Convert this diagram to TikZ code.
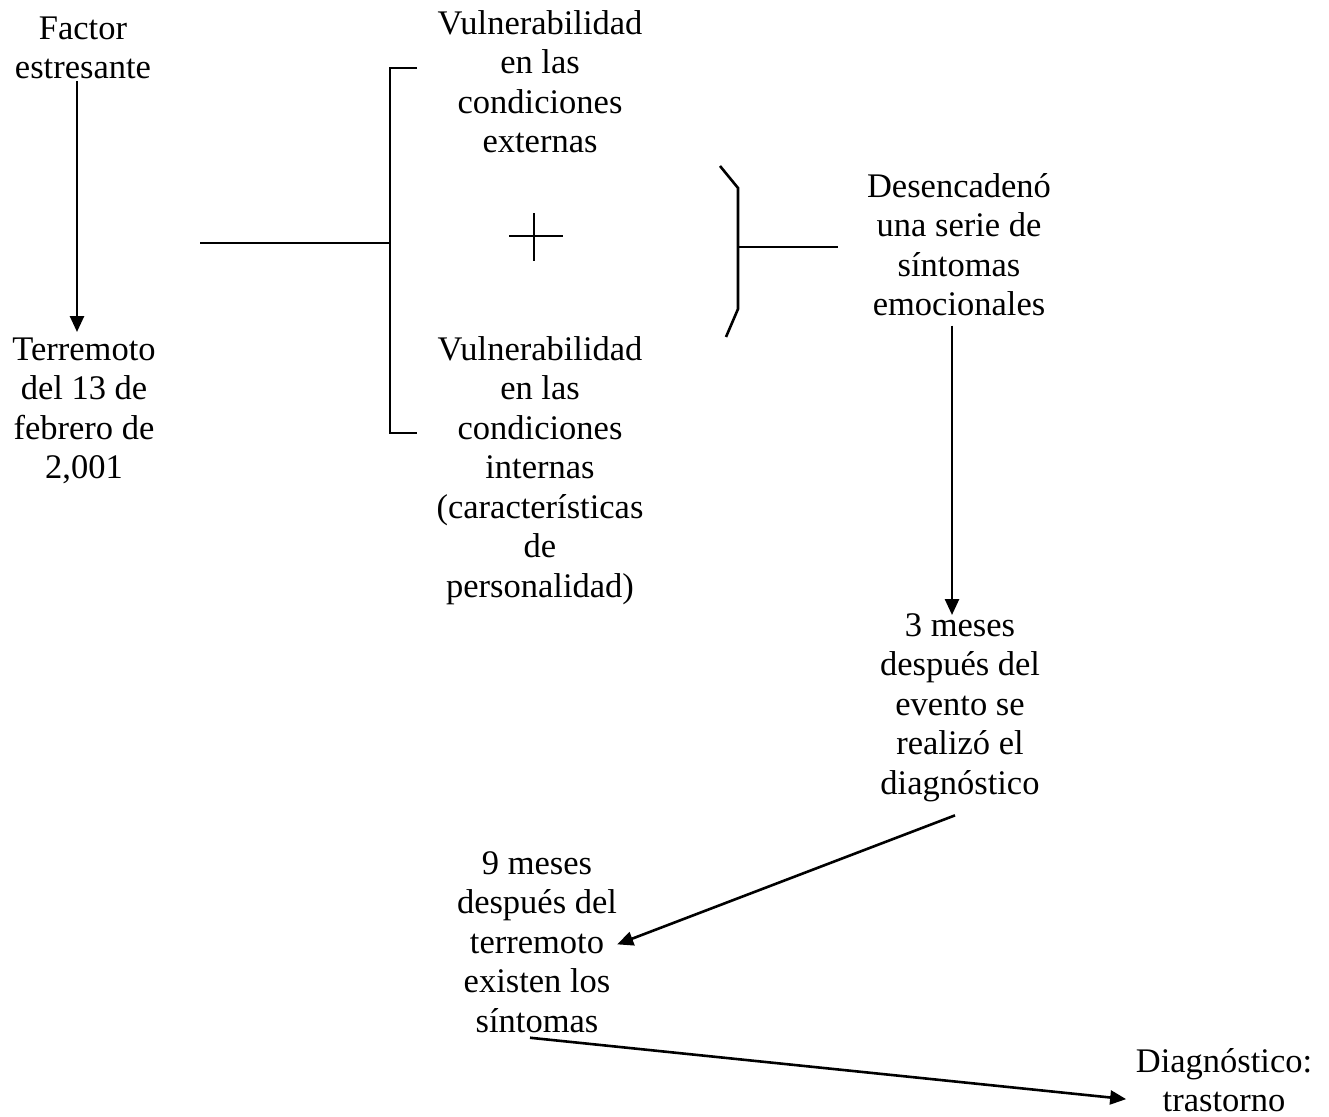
\documentclass[tikz,border=0pt]{standalone}
\usepackage{fontspec}
\setmainfont{Liberation Serif}
\usetikzlibrary{arrows.meta}
\begin{document}
\newcommand\fl{\rule{0pt}{26pt}}
\begin{tikzpicture}[x=1pt,y=-1pt,
  txt/.style={align=center, inner sep=0pt, anchor=north, font=\fontsize{34.5}{39.5}\selectfont},
  arr/.style={line width=2.6pt, -{Triangle[length=16pt,width=14pt]}},
  brk/.style={line width=2.6pt},
  thinline/.style={line width=1.6pt}]
\useasboundingbox (0,0) rectangle (1329,1116);
% text blocks
\node[txt] (factor) at (83,13) {\fl Factor\\estresante};
\node[txt] (terremoto) at (84,334) {\fl Terremoto\\del 13 de\\febrero de\\2,001};
\node[txt] (vext) at (540,8) {\fl Vulnerabilidad\\en las\\condiciones\\externas};
\node[txt] (vint) at (540,334) {\fl Vulnerabilidad\\en las\\condiciones\\internas\\(características\\de\\personalidad)};
\node[txt] (desenc) at (959,171) {\fl Desencadenó\\una serie de\\síntomas\\emocionales};
\node[txt] (tres) at (960,610) {\fl 3 meses\\después del\\evento se\\realizó el\\diagnóstico};
\node[txt] (nueve) at (537,848) {\fl 9 meses\\después del\\terremoto\\existen los\\síntomas};
\node[txt] (diag) at (1224,1046) {\fl Diagnóstico:\\trastorno};
% brace structure
\coordinate (lstart) at (200,243);
\coordinate (lmid) at (390,243);
\coordinate (ltop) at (417,68);
\coordinate (lbot) at (417,433);
\draw[thinline] (lstart) -- (lmid);
\draw[brk] (ltop) -- (390,68) -- (390,433) -- (lbot);
\coordinate (plus) at (534,236);
\draw[brk] (plus) ++(-25,0) -- ++(54,0);
\draw[brk] (plus) ++(0,-23) -- ++(0,48);
\coordinate (rtop) at (720,166);
\coordinate (rbot) at (726,337);
\draw[brk] (rtop) -- (738,188) -- (738,309) -- (rbot);
\coordinate (rmid) at (738,247);
\coordinate (rend) at (838,247);
\draw[thinline] (rmid) -- (rend);
% arrows
\draw[arr] ([xshift=-6pt,yshift=-2pt]factor.south) -- ([xshift=-7pt,yshift=2pt]terremoto.north);
\draw[arr] ([xshift=-7pt,yshift=-9.5pt]desenc.south) -- ([xshift=-8pt,yshift=-5pt]tres.north);
\draw[arr] ([xshift=-5pt,yshift=-13.5pt]tres.south) -- ([yshift=-4pt]nueve.east);
\draw[arr] ([xshift=-7pt,yshift=-5pt]nueve.south) -- ([xshift=-9.5pt,yshift=-20pt]diag.west);
\end{tikzpicture}
\end{document}
